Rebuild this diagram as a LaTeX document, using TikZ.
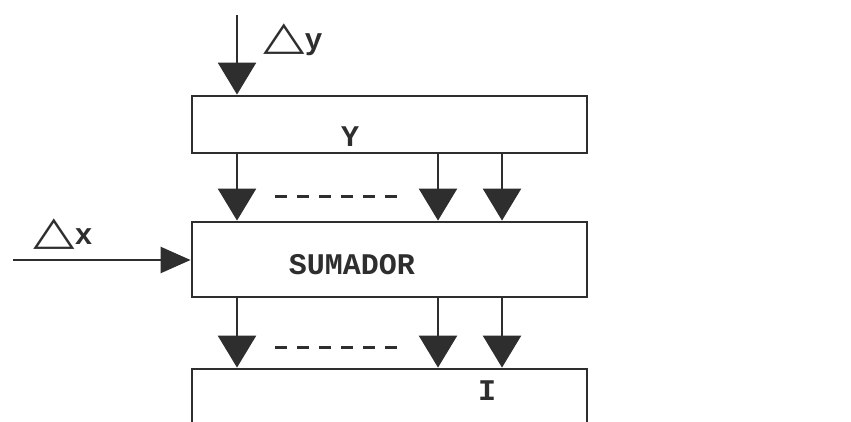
\documentclass[tikz,border=0pt]{standalone}
\usepackage{fontspec}
\setmonofont{Liberation Mono}
\newfontfamily\symfont{DejaVu Sans}
\usetikzlibrary{arrows.meta}
\definecolor{ink}{HTML}{2E2E2E}
\newcommand{\deltri}{{\symfont\fontsize{40}{40}\selectfont\scalebox{1.35}[1]{△}}}
\tikzset{
  block/.style={draw=ink, line width=2.8pt, minimum width=395pt, inner sep=0pt},
  lbl/.style={text=ink, font=\ttfamily\bfseries\fontsize{30}{30}\selectfont, inner sep=0pt},
  feed/.style={draw=ink, line width=2.5pt, -{Triangle[width=38pt,length=32pt]}},
  sidefeed/.style={draw=ink, line width=2.4pt, -{Triangle[width=26pt,length=30pt]}},
  dots/.style={draw=ink, line width=3pt, dash pattern=on 12pt off 10pt},
  dlt/.style={text=ink, inner sep=0pt}
}
\begin{document}
\begin{tikzpicture}[x=1pt,y=-1pt]
\useasboundingbox (0,0) rectangle (851,422);
% blocks
\node[block, minimum height=57pt] (ybox) at (389.5,124.5) {};
\node[block, minimum height=75pt] (sum) at (389.5,259.5) {};
\node[block, minimum height=90pt] (ibox) at (389.5,414) {};
% labels
\node[lbl] (ylbl) at (350,137) {Y};
\node[lbl] (slbl) at (352,265) {SUMADOR};
\node[lbl] (ilbl) at (487,391) {I};
% inputs
\coordinate (ytop) at (237,15);
\coordinate (xleft) at (13,260);
\draw[feed] (ytop) -- (ytop |- ybox.north);
\draw[sidefeed] (xleft) -- (xleft -| sum.west);
\node[dlt, anchor=west] (dy) at (263,40) {\deltri{\ttfamily\bfseries\fontsize{30}{30}\selectfont y}};
\node[dlt, anchor=west] (dx) at (33,234) {\deltri{\ttfamily\bfseries\fontsize{30}{30}\selectfont x}};
% parallel lines
\foreach \xx [count=\i] in {237,438,502} {
  \coordinate (a\i) at (\xx,0);
  \draw[feed] (a\i |- ybox.south) -- (a\i |- sum.north);
  \draw[feed] (a\i |- sum.south) -- (a\i |- ibox.north);
}
\coordinate (d1) at (275,197);
\coordinate (d2) at (398,197);
\coordinate (d3) at (275,347);
\coordinate (d4) at (398,347);
\draw[dots] (d1) -- (d2);
\draw[dots] (d3) -- (d4);
\end{tikzpicture}
\end{document}
